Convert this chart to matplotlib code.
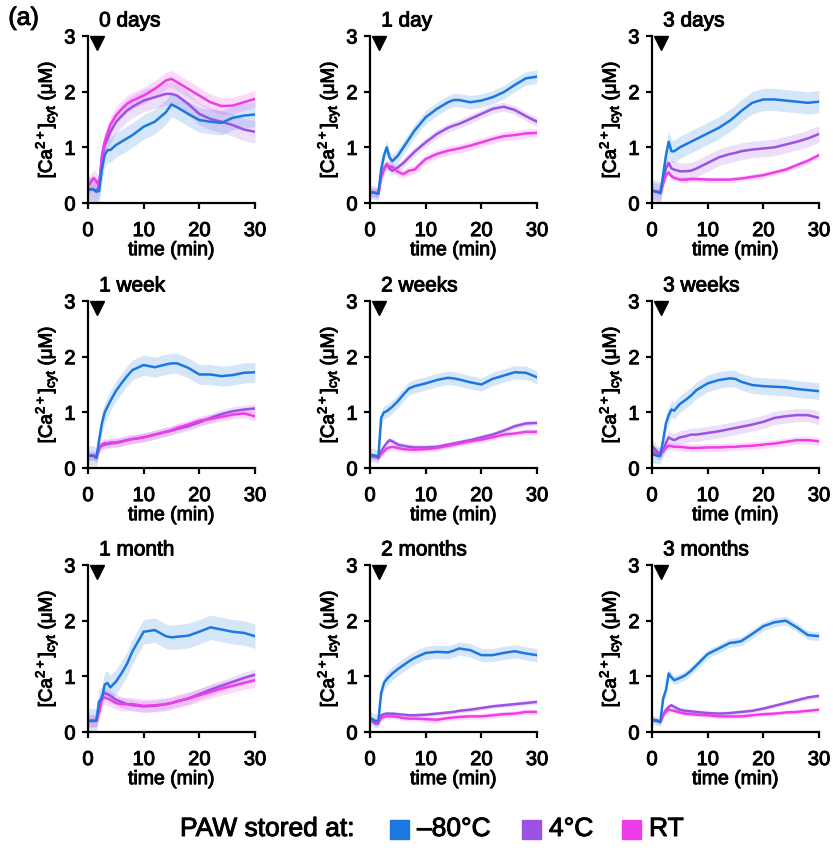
import matplotlib
matplotlib.use('Agg')
import matplotlib.pyplot as plt
import matplotlib.patheffects as pe
from matplotlib.patches import Rectangle

plt.rcParams['font.family'] = ['Liberation Sans', 'DejaVu Sans']

# sampling times (min)
T = [0, 1, 1.5, 2, 2.5, 3, 3.5, 4, 5, 6, 7, 8, 10, 12, 14, 15, 16, 18, 20, 22, 24, 26, 28, 30]

PANELS = ['0 days', '1 day', '3 days', '1 week', '2 weeks', '3 weeks',
          '1 month', '2 months', '3 months']

# mean [Ca2+]cyt (uM) per storage condition, one list per panel
M80 = [
    [0.25, 0.24, 0.2, 0.22, 0.6, 0.86, 0.95, 0.95, 1.04, 1.1, 1.16, 1.22, 1.37, 1.46, 1.63, 1.77, 1.72, 1.6, 1.49, 1.46, 1.44, 1.53, 1.57, 1.59],
    [0.2, 0.18, 0.17, 0.6, 0.85, 1.0, 0.82, 0.75, 0.85, 1.0, 1.15, 1.3, 1.54, 1.69, 1.81, 1.85, 1.85, 1.81, 1.84, 1.9, 1.99, 2.12, 2.24, 2.27],
    [0.22, 0.2, 0.18, 0.5, 0.85, 1.1, 0.93, 0.93, 1.0, 1.05, 1.1, 1.15, 1.25, 1.35, 1.48, 1.56, 1.65, 1.8, 1.86, 1.86, 1.84, 1.82, 1.8, 1.82],
    [0.22, 0.22, 0.18, 0.5, 0.8, 1.0, 1.1, 1.2, 1.38, 1.52, 1.65, 1.76, 1.85, 1.81, 1.86, 1.88, 1.88, 1.8, 1.68, 1.68, 1.65, 1.67, 1.71, 1.72],
    [0.24, 0.22, 0.2, 0.9, 1.0, 1.02, 1.06, 1.1, 1.2, 1.32, 1.43, 1.47, 1.52, 1.58, 1.62, 1.61, 1.59, 1.54, 1.5, 1.6, 1.66, 1.72, 1.71, 1.63],
    [0.25, 0.22, 0.22, 0.5, 0.8, 0.95, 1.05, 1.03, 1.15, 1.22, 1.3, 1.4, 1.52, 1.58, 1.61, 1.6, 1.55, 1.49, 1.47, 1.46, 1.45, 1.42, 1.4, 1.38],
    [0.2, 0.2, 0.2, 0.55, 0.6, 0.85, 0.88, 0.8, 0.9, 1.05, 1.22, 1.45, 1.8, 1.83, 1.72, 1.7, 1.71, 1.73, 1.8, 1.88, 1.84, 1.8, 1.78, 1.72],
    [0.25, 0.2, 0.2, 0.7, 0.88, 0.95, 1.0, 1.05, 1.13, 1.2, 1.27, 1.33, 1.42, 1.44, 1.43, 1.46, 1.5, 1.47, 1.38, 1.38, 1.42, 1.45, 1.41, 1.38],
    [0.22, 0.2, 0.18, 0.6, 0.75, 1.05, 0.98, 0.93, 0.97, 1.02, 1.1, 1.2, 1.4, 1.5, 1.6, 1.61, 1.63, 1.76, 1.9, 1.97, 2.0, 1.88, 1.74, 1.72],
]
M4 = [
    [0.25, 0.25, 0.22, 0.3, 0.8, 1.04, 1.15, 1.27, 1.45, 1.56, 1.66, 1.73, 1.84, 1.9, 1.96, 1.96, 1.93, 1.78, 1.6, 1.51, 1.46, 1.4, 1.32, 1.28],
    [0.2, 0.18, 0.17, 0.5, 0.62, 0.7, 0.62, 0.58, 0.64, 0.72, 0.82, 0.92, 1.09, 1.24, 1.35, 1.39, 1.42, 1.51, 1.6, 1.69, 1.73, 1.67, 1.56, 1.46],
    [0.22, 0.2, 0.18, 0.4, 0.62, 0.72, 0.62, 0.6, 0.57, 0.57, 0.58, 0.62, 0.72, 0.82, 0.88, 0.9, 0.93, 0.96, 0.98, 1.0, 1.05, 1.1, 1.16, 1.24],
    [0.22, 0.22, 0.18, 0.35, 0.4, 0.42, 0.43, 0.44, 0.45, 0.47, 0.5, 0.52, 0.55, 0.6, 0.65, 0.67, 0.7, 0.75, 0.82, 0.9, 0.97, 1.02, 1.05, 1.07],
    [0.22, 0.2, 0.18, 0.3, 0.38, 0.45, 0.5, 0.48, 0.42, 0.4, 0.38, 0.37, 0.37, 0.38, 0.42, 0.44, 0.46, 0.5, 0.55, 0.6, 0.67, 0.75, 0.8, 0.81],
    [0.4, 0.28, 0.26, 0.3, 0.45, 0.55, 0.52, 0.5, 0.55, 0.57, 0.6, 0.6, 0.63, 0.66, 0.7, 0.72, 0.74, 0.78, 0.83, 0.9, 0.93, 0.95, 0.95, 0.9],
    [0.2, 0.2, 0.2, 0.4, 0.65, 0.7, 0.68, 0.65, 0.58, 0.54, 0.5, 0.48, 0.46, 0.47, 0.5, 0.52, 0.55, 0.6, 0.68, 0.76, 0.83, 0.9, 0.97, 1.03],
    [0.22, 0.15, 0.15, 0.3, 0.32, 0.33, 0.33, 0.33, 0.32, 0.31, 0.3, 0.3, 0.31, 0.33, 0.35, 0.36, 0.38, 0.4, 0.43, 0.46, 0.48, 0.5, 0.52, 0.54],
    [0.22, 0.2, 0.18, 0.3, 0.4, 0.45, 0.48, 0.45, 0.4, 0.38, 0.37, 0.36, 0.34, 0.33, 0.34, 0.35, 0.36, 0.38, 0.42, 0.47, 0.52, 0.57, 0.62, 0.65],
]
MRT = [
    [0.3, 0.45, 0.4, 0.3, 0.86, 1.1, 1.25, 1.4, 1.57, 1.68, 1.78, 1.84, 1.93, 2.05, 2.2, 2.23, 2.17, 2.05, 1.93, 1.81, 1.74, 1.75, 1.81, 1.87],
    [0.2, 0.18, 0.17, 0.45, 0.6, 0.68, 0.66, 0.65, 0.56, 0.52, 0.58, 0.6, 0.79, 0.88, 0.94, 0.96, 0.98, 1.03, 1.09, 1.15, 1.2, 1.22, 1.25, 1.26],
    [0.22, 0.2, 0.18, 0.35, 0.5, 0.55, 0.48, 0.45, 0.42, 0.42, 0.43, 0.43, 0.42, 0.42, 0.42, 0.43, 0.44, 0.47, 0.5, 0.55, 0.6, 0.68, 0.76, 0.86],
    [0.22, 0.22, 0.18, 0.35, 0.42, 0.45, 0.44, 0.46, 0.46, 0.48, 0.5, 0.52, 0.55, 0.6, 0.65, 0.68, 0.72, 0.78, 0.85, 0.88, 0.92, 0.96, 0.98, 0.93],
    [0.22, 0.2, 0.18, 0.25, 0.3, 0.35, 0.37, 0.38, 0.36, 0.34, 0.33, 0.33, 0.34, 0.36, 0.4, 0.42, 0.44, 0.48, 0.51, 0.55, 0.6, 0.62, 0.65, 0.65],
    [0.3, 0.26, 0.25, 0.3, 0.36, 0.4, 0.39, 0.38, 0.38, 0.37, 0.36, 0.36, 0.37, 0.37, 0.38, 0.38, 0.39, 0.4, 0.42, 0.44, 0.47, 0.5, 0.5, 0.48],
    [0.2, 0.2, 0.2, 0.35, 0.6, 0.62, 0.6, 0.58, 0.52, 0.5, 0.5, 0.5, 0.47, 0.48, 0.5, 0.52, 0.55, 0.6, 0.66, 0.72, 0.78, 0.83, 0.88, 0.93],
    [0.25, 0.18, 0.18, 0.25, 0.27, 0.28, 0.28, 0.28, 0.27, 0.25, 0.24, 0.24, 0.23, 0.22, 0.25, 0.26, 0.27, 0.28, 0.28, 0.3, 0.32, 0.33, 0.36, 0.36],
    [0.22, 0.2, 0.18, 0.3, 0.36, 0.4, 0.39, 0.38, 0.35, 0.33, 0.32, 0.31, 0.3, 0.28, 0.28, 0.28, 0.28, 0.3, 0.32, 0.33, 0.35, 0.36, 0.38, 0.4],
]
# SEM half-width per panel
E80 = [0.22, 0.12, 0.2, 0.18, 0.12, 0.15, 0.22, 0.12, 0.08]
E4 = [0.2, 0.08, 0.15, 0.08, 0.05, 0.12, 0.1, 0.04, 0.04]
ERT = [0.15, 0.08, 0.05, 0.08, 0.05, 0.07, 0.12, 0.05, 0.04]

C80, C4, CRT = '#1a78e0', '#9b52e2', '#f03ce8'
LEG = ['\u201380\u00b0C', '4\u00b0C', 'RT']

# slightly heavier glyphs
BOLDISH = [pe.withStroke(linewidth=0.7, foreground='black')]

fig = plt.figure(figsize=(8.33, 8.54), dpi=100)
lefts = [0.1056, 0.4442, 0.7827]
bottoms = [0.7611, 0.4508, 0.1417]
W, H = 0.2005, 0.1956

for i, name in enumerate(PANELS):
    ax = fig.add_axes([lefts[i % 3], bottoms[i // 3], W, H])
    for m, e, c in [(M80[i], E80[i], C80), (M4[i], E4[i], C4), (MRT[i], ERT[i], CRT)]:
        lo = [v - e for v in m]
        hi = [v + e for v in m]
        ax.fill_between(T, lo, hi, color=c, alpha=0.18, lw=0)
    for m, c in [(M4[i], C4), (MRT[i], CRT), (M80[i], C80)]:
        ax.plot(T, m, color=c, lw=1.8)
    ax.plot([1.7], [2.88], marker='v', color='black', ms=10, clip_on=False)
    ax.text(2.0, 3.1, name, fontsize=15, va='bottom', ha='left', path_effects=BOLDISH)
    ax.set_xlim(0, 30)
    ax.set_ylim(0, 3)
    ax.set_xticks([0, 10, 20, 30])
    ax.set_yticks([0, 1, 2, 3])
    for s in ['top', 'right']:
        ax.spines[s].set_visible(False)
    for s in ['left', 'bottom']:
        ax.spines[s].set_linewidth(1.6)
    ax.tick_params(width=1.6, length=4, labelsize=14.5)
    ax.tick_params(axis='x', pad=9)
    ax.tick_params(axis='y', pad=5)
    ax.set_xlabel('time (min)', fontsize=14, labelpad=1.5, path_effects=BOLDISH)
    ax.set_ylabel(r'[Ca$^{\mathregular{2+}}$]$_{\mathregular{cyt}}$ ($\mathregular{\mu}$M)',
                  fontsize=13.5, labelpad=3, path_effects=BOLDISH)
    for lab in ax.get_xticklabels() + ax.get_yticklabels():
        lab.set_path_effects(BOLDISH)

fig.text(0.010, 0.978, '(a)', fontsize=18, va='center', path_effects=BOLDISH)

# legend row
ly = 1 - 830 / 854
fig.text(180 / 833, ly, 'PAW stored at:', fontsize=19, va='center', path_effects=BOLDISH)
for x0, c, lab in [(390, C80, LEG[0]), (522, C4, LEG[1]), (622, CRT, LEG[2])]:
    fig.patches.append(Rectangle((x0 / 833, ly - 9.5 / 854), 19 / 833, 19 / 854,
                                 transform=fig.transFigure, color=c))
    fig.text((x0 + 27) / 833, ly, lab, fontsize=19, va='center', path_effects=BOLDISH)

fig.savefig('out.png', dpi=100)
